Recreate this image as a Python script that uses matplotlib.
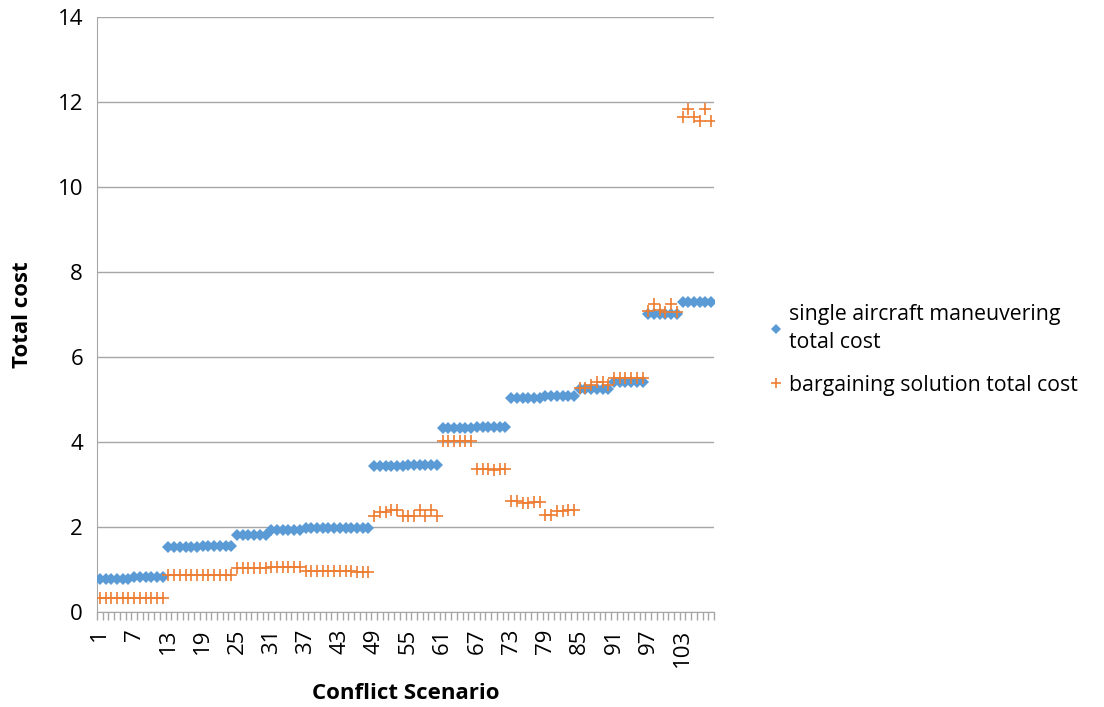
import matplotlib
matplotlib.use("Agg")
import matplotlib.pyplot as plt
import numpy as np

plt.rcParams['font.family'] = ['Open Sans', 'DejaVu Sans']

scenarios = list(range(1, 109))

single_cost = (
    [0.77] * 6 + [0.82] * 6 + [1.54] * 6 + [1.56] * 6 +
    [1.82] * 6 + [1.93] * 6 + [1.97] * 6 + [1.98] * 6 +
    [3.44] * 6 + [3.46] * 6 + [4.33] * 6 + [4.35] * 6 +
    [5.03] * 6 + [5.09] * 6 + [5.24] * 6 + [5.42] * 6 +
    [7.01] * 6 + [7.30] * 6
)

bargaining_cost = [
    0.32, 0.32, 0.32, 0.32, 0.32, 0.32, 0.33, 0.33, 0.33, 0.33, 0.33, 0.33,
    0.87, 0.87, 0.87, 0.87, 0.88, 0.88, 0.88, 0.88, 0.88, 0.88, 0.88, 0.88,
    1.03, 1.03, 1.03, 1.03, 1.03, 1.04, 1.06, 1.06, 1.06, 1.06, 1.06, 1.06,
    0.96, 0.96, 0.96, 0.96, 0.96, 0.96, 0.96, 0.96, 0.96, 0.95, 0.93, 0.93,
    2.25, 2.35, 2.36, 2.40, 2.40, 2.25, 2.25, 2.25, 2.40, 2.25, 2.40, 2.25,
    4.02, 4.02, 4.02, 4.02, 4.02, 4.02, 3.36, 3.36, 3.36, 3.35, 3.36, 3.36,
    2.62, 2.61, 2.56, 2.56, 2.58, 2.58, 2.28, 2.28, 2.37, 2.38, 2.39, 2.40,
    5.28, 5.28, 5.33, 5.42, 5.42, 5.34, 5.51, 5.51, 5.51, 5.51, 5.51, 5.51,
    7.08, 7.25, 7.11, 7.05, 7.25, 7.05, 11.64, 11.83, 11.64, 11.56, 11.83, 11.56,
]

tick_labels = [str(v) for v in range(1, 109, 6)]

fig = plt.figure(figsize=(11.04, 7.07), dpi=100)
ax = fig.add_axes([97 / 1104, 1 - 612 / 707, (714 - 97) / 1104, (612 - 17) / 707])

grid_c = '#A6A6A6'
ax.plot(scenarios, single_cost, linestyle='none', marker='D', markersize=6,
        color='#5B9BD5', markeredgewidth=0, label='single aircraft maneuvering\ntotal cost', zorder=3)
ax.plot(scenarios, bargaining_cost, linestyle='none', marker='+', markersize=8,
        color='#ED7D31', markeredgewidth=1.2, label='bargaining solution total cost', zorder=4)

ax.set_xlim(0.5, 108.5)
ax.set_ylim(0, 14)
ax.set_yticks(np.arange(0, 15, 2))
ax.yaxis.grid(True, color=grid_c, linewidth=1)
ax.set_axisbelow(True)
ax.tick_params(axis='y', length=0, labelsize=16, pad=10)

ax.set_xticks(range(1, 109, 6))
ax.set_xticklabels(tick_labels, rotation=90, fontsize=16)
ax.set_xticks(np.arange(0.5, 109, 1), minor=True)
ax.tick_params(axis='x', which='major', length=0, pad=12)
ax.tick_params(axis='x', which='minor', length=6, color=grid_c, width=1)

for s in ['top', 'right']:
    ax.spines[s].set_visible(False)
ax.spines['left'].set_color(grid_c)
ax.spines['bottom'].set_color(grid_c)

ax.set_ylabel('Total cost', fontsize=16, fontweight='bold', labelpad=18)
ax.set_xlabel('Conflict Scenario', fontsize=16, fontweight='bold', labelpad=12)

leg = fig.legend(loc='center left', bbox_to_anchor=(748 / 1104, 1 - 350 / 707),
                 frameon=False, fontsize=15.3, handletextpad=0.25, handlelength=0.8,
                 labelspacing=1.0, markerscale=0.85)
for t in leg.get_texts():
    t.set_linespacing(1.45)

fig.savefig('out.png', dpi=100)
